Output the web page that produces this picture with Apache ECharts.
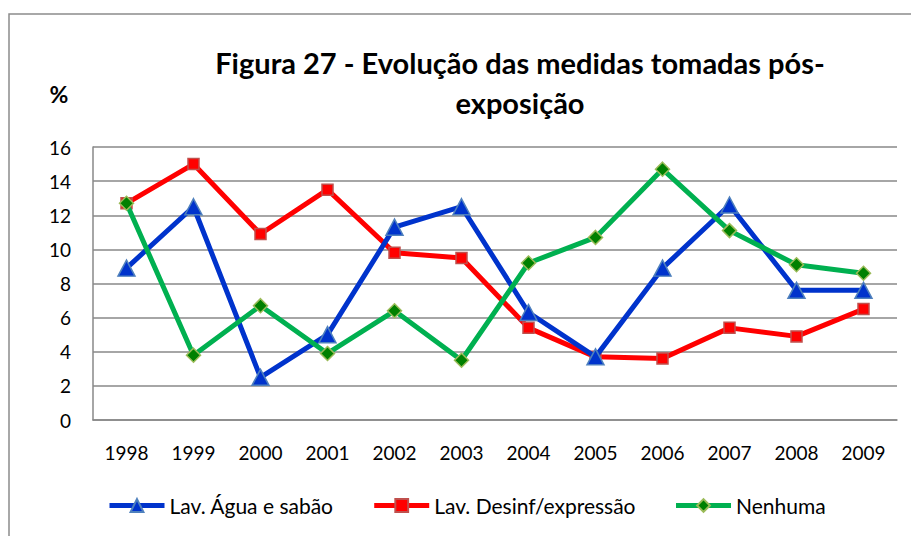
<!DOCTYPE html>
<html>
<head>
<meta charset="utf-8">
<script src="https://cdn.jsdelivr.net/npm/echarts@6/dist/echarts.min.js"></script>
<style>
  html, body { margin: 0; padding: 0; background: #fff; }
  #chart { width: 911px; height: 536px; }
</style>
</head>
<body>
<div id="chart"></div>
<script>
var anos = ["1998", "1999", "2000", "2001", "2002", "2003", "2004", "2005", "2006", "2007", "2008", "2009"];
var aguaSabao = [8.9, 12.5, 2.5, 5.0, 11.3, 12.5, 6.3, 3.7, 8.9, 12.6, 7.6, 7.6];
var desinfExpressao = [12.7, 15.0, 10.9, 13.5, 9.8, 9.5, 5.4, 3.7, 3.6, 5.4, 4.9, 6.5];
var nenhuma = [12.7, 3.8, 6.7, 3.9, 6.4, 3.5, 9.2, 10.7, 14.7, 11.1, 9.1, 8.6];
var yTicks = [0, 2, 4, 6, 8, 10, 12, 14, 16];

var fonte = "Lato, 'Open Sans', sans-serif";
var cinza = "#888888";

var myChart = echarts.init(document.getElementById("chart"), null, {renderer: 'svg'});

var option = {
  backgroundColor: '#fff',
  animation: false,
  graphic: [
    { // moldura do grafico
      type: 'rect',
      z: -10,
      shape: { x: 9, y: 14, width: 1000, height: 1000 },
      style: { fill: '#fff', stroke: '#8c8c8c', lineWidth: 1.5 }
    },
    {
      type: 'text',
      x: 520, y: 82,
      style: {
        text: 'Figura 27 - Evolução das medidas tomadas pós-\nexposição',
        font: "bold 29px " + fonte,
        fill: '#000',
        textAlign: 'center',
        textVerticalAlign: 'middle',
        lineHeight: 40
      }
    },
    {
      type: 'text',
      x: 59, y: 94,
      style: {
        text: '%',
        font: "bold 23px " + fonte,
        fill: '#000',
        textAlign: 'center',
        textVerticalAlign: 'middle'
      }
    }
  ],
  grid: { left: 93, right: 14, top: 147, bottom: 116, containLabel: false },
  legend: {
    left: 102,
    top: 490,
    itemWidth: 55,
    itemHeight: 16,
    itemGap: 38,
    lineStyle: { width: 5 },
    textStyle: { fontFamily: fonte, fontSize: 21, color: '#000' },
    data: ['Lav. Água e sabão', 'Lav. Desinf/expressão', 'Nenhuma']
  },
  xAxis: {
    type: 'category',
    data: anos,
    boundaryGap: true,
    axisLine: { lineStyle: { color: cinza, width: 1.5 } },
    axisTick: { alignWithLabel: true, length: 5, lineStyle: { color: cinza, width: 1.5 } },
    axisLabel: { margin: 23, fontFamily: fonte, fontSize: 19, color: '#000' }
  },
  yAxis: {
    type: 'value',
    min: yTicks[0],
    max: yTicks[yTicks.length - 1],
    interval: 2,
    axisLine: { show: true, lineStyle: { color: cinza, width: 1.5 } },
    axisTick: { show: false },
    splitLine: { lineStyle: { color: cinza, width: 1.5 } },
    axisLabel: { margin: 22, fontFamily: fonte, fontSize: 19, color: '#000' }
  },
  series: [
    {
      name: 'Lav. Água e sabão',
      type: 'line',
      data: aguaSabao,
      symbol: 'triangle',
      symbolSize: [17, 16],
      lineStyle: { color: '#0033cc', width: 5 },
      itemStyle: { color: '#0033cc', borderColor: '#4f81bd', borderWidth: 1.5 },
      z: 3
    },
    {
      name: 'Lav. Desinf/expressão',
      type: 'line',
      data: desinfExpressao,
      symbol: 'rect',
      symbolSize: 11,
      lineStyle: { color: '#ff0000', width: 5 },
      itemStyle: { color: '#ff0000', borderColor: '#c0504d', borderWidth: 1.5 },
      z: 2
    },
    {
      name: 'Nenhuma',
      type: 'line',
      data: nenhuma,
      symbol: 'diamond',
      symbolSize: 14,
      lineStyle: { color: '#00b050', width: 5 },
      itemStyle: { color: '#008000', borderColor: '#9bbb59', borderWidth: 1.5 },
      z: 4
    }
  ]
};

myChart.setOption(option);
</script>
</body>
</html>
